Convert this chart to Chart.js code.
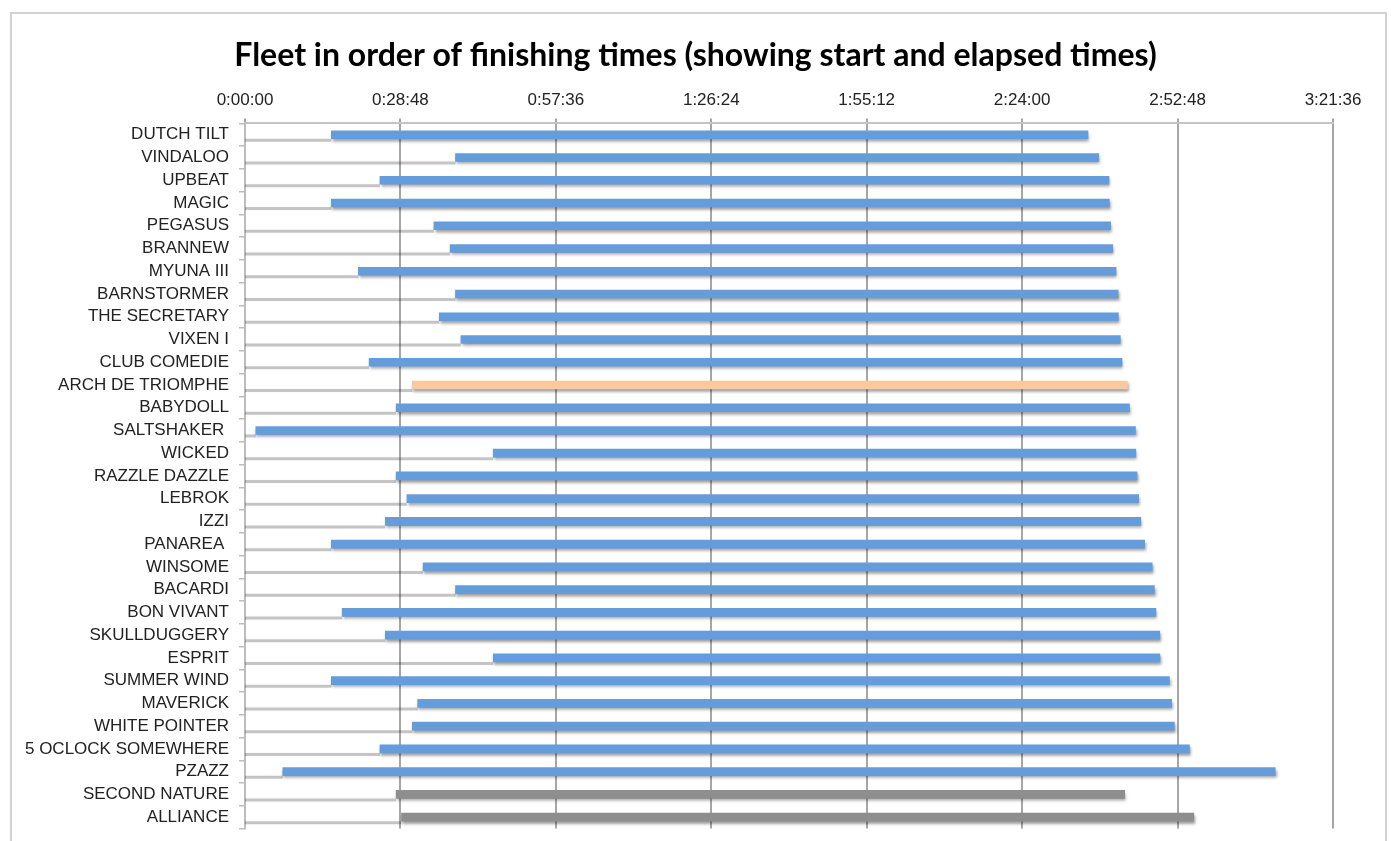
<!DOCTYPE html>
<html>
<head>
<meta charset="utf-8">
<script src="https://cdn.jsdelivr.net/npm/chart.js@4.4.1/dist/chart.umd.min.js"></script>
<style>
  html, body { margin: 0; padding: 0; background: #fff; overflow: hidden; }
  #wrap { position: absolute; left: 0; top: 0; width: 1391px; height: 841px; }
  #frame { position: absolute; left: 10px; top: 12px; width: 1377px; height: 850px;
           border: 2px solid #d2d2d2; box-sizing: border-box; pointer-events: none; }
</style>
</head>
<body>
<div id="wrap">
  <canvas id="chart-fleet"></canvas>
  <div id="frame"></div>
</div>
<script>
// boats, in finishing order
var boats = ["DUTCH TILT", "VINDALOO", "UPBEAT", "MAGIC", "PEGASUS", "BRANNEW", "MYUNA III",
  "BARNSTORMER", "THE SECRETARY", "VIXEN I", "CLUB COMEDIE", "ARCH DE TRIOMPHE", "BABYDOLL",
  "SALTSHAKER ", "WICKED", "RAZZLE DAZZLE", "LEBROK", "IZZI", "PANAREA ", "WINSOME", "BACARDI",
  "BON VIVANT", "SKULLDUGGERY", "ESPRIT", "SUMMER WIND", "MAVERICK", "WHITE POINTER",
  "5 OCLOCK SOMEWHERE", "PZAZZ", "SECOND NATURE", "ALLIANCE"];

// start times
var start_times = ["0:16:00", "0:39:00", "0:25:00", "0:16:00", "0:35:00", "0:38:00", "0:21:00",
  "0:39:00", "0:36:00", "0:40:00", "0:23:00", "0:31:00", "0:28:00", "0:02:00", "0:46:00",
  "0:28:00", "0:30:00", "0:26:00", "0:16:00", "0:33:00", "0:39:00", "0:18:00", "0:26:00",
  "0:46:00", "0:16:00", "0:32:00", "0:31:00", "0:25:00", "0:07:00", "0:28:00", "0:29:00"];

// finishing times (start + elapsed)
var finish_times = ["2:36:12", "2:38:12", "2:40:06", "2:40:10", "2:40:24", "2:40:48", "2:41:24",
  "2:41:48", "2:41:50", "2:42:12", "2:42:30", "2:43:30", "2:43:54", "2:45:00", "2:45:04",
  "2:45:18", "2:45:36", "2:46:00", "2:46:42", "2:48:06", "2:48:30", "2:48:48", "2:49:30",
  "2:49:32", "2:51:18", "2:51:42", "2:52:12", "2:55:00", "3:10:54", "2:43:00", "2:55:48"];

// 0 = normal, 1 = highlighted, 2 = other
var groups = [0,0,0,0,0,0,0,0,0,0,0,1,0,0,0,0,0,0,0,0,0,0,0,0,0,0,0,0,0,2,2];
var group_colors = ["rgb(101,156,220)", "rgb(252,200,157)", "rgb(142,142,142)"];

// axis ticks: 0:00:00 .. 3:21:36, every 0:28:48
var tick_step = 1728;
var tick_max = 12096;

function toSec(s) {
  var p = s.split(":");
  return (+p[0]) * 3600 + (+p[1]) * 60 + (+p[2]);
}
function toHMS(v) {
  var h = Math.floor(v / 3600);
  var m = Math.floor((v % 3600) / 60);
  var s = Math.round(v % 60);
  return h + ":" + (m < 10 ? "0" : "") + m + ":" + (s < 10 ? "0" : "") + s;
}

var bar_data = [];
var bar_colors = [];
for (let i = 0; i < boats.length; i++) {
  bar_data.push([toSec(start_times[i]), toSec(finish_times[i])]);
  bar_colors.push(group_colors[groups[i]]);
}

// grey shadow line from 0 to the start of each bar, plus soft shadow under the bars
const shadowPlugin = {
  id: "barShadow",
  beforeDatasetsDraw(chart) {
    const ctx = chart.ctx;
    const x0 = chart.scales.x.getPixelForValue(0);
    const meta = chart.getDatasetMeta(0);
    ctx.save();
    ctx.strokeStyle = "rgba(0,0,0,0.2)";
    ctx.lineWidth = 3;
    ctx.shadowColor = "rgba(0,0,0,0.25)";
    ctx.shadowBlur = 2;
    meta.data.forEach(function (el) {
      const y = el.y + el.height / 2 + 1.5;
      ctx.beginPath();
      ctx.moveTo(x0, y);
      ctx.lineTo(el.base, y);
      ctx.stroke();
    });
    ctx.restore();
  },
  beforeDatasetDraw(chart) {
    const ctx = chart.ctx;
    ctx.save();
    ctx.shadowColor = "rgba(0,0,0,0.38)";
    ctx.shadowBlur = 3;
    ctx.shadowOffsetX = 1;
    ctx.shadowOffsetY = 2.5;
  },
  afterDatasetDraw(chart) {
    chart.ctx.restore();
  }
};

const chartFleet = document.getElementById("chart-fleet").getContext("2d");
const myChartFleet = new Chart(chartFleet, {
  type: "bar",
  data: {
    labels: boats,
    datasets: [
      {
        label: "Elapsed",
        data: bar_data,
        backgroundColor: bar_colors,
        borderWidth: 0,
        borderSkipped: false,
        barThickness: 8,
      },
    ],
  },
  plugins: [shadowPlugin],
  options: {
    indexAxis: "y",
    responsive: true,
    maintainAspectRatio: false,
    animation: false,
    layout: {
      padding: { top: 0, left: 0, right: 0, bottom: 12.5 },
    },
    plugins: {
      legend: { display: false },
      tooltip: { enabled: false },
      title: {
        display: true,
        text: "Fleet in order of finishing times (showing start and elapsed times)",
        color: "#000",
        font: { family: "Lato", size: 32, weight: "bold" },
        padding: { top: 36, bottom: 8 },
      },
    },
    scales: {
      x: {
        type: "linear",
        position: "top",
        min: 0,
        max: tick_max,
        afterFit: function (scale) {
          scale.height = 41;
          scale.paddingRight = 58;
        },
        ticks: {
          stepSize: tick_step,
          padding: 8,
          color: "#222",
          font: { family: "Liberation Sans", size: 17 },
          callback: function (value) {
            return toHMS(value);
          },
        },
        grid: {
          color: "rgba(150,150,150,0.85)",
          lineWidth: 2,
          tickLength: 5,
        },
        border: { color: "#c4c4c4", width: 2 },
      },
      y: {
        afterFit: function (scale) {
          scale.width = 245;
          scale.paddingTop = 0;
          scale.paddingBottom = 0;
        },
        ticks: {
          padding: 10,
          color: "#222",
          autoSkip: false,
          font: { family: "Liberation Sans", size: 17 },
        },
        grid: {
          drawOnChartArea: false,
          tickLength: 6,
          color: "#bdbdbd",
          lineWidth: 1.5,
        },
        border: { color: "#bdbdbd", width: 2 },
      },
    },
  },
});
</script>
</body>
</html>
